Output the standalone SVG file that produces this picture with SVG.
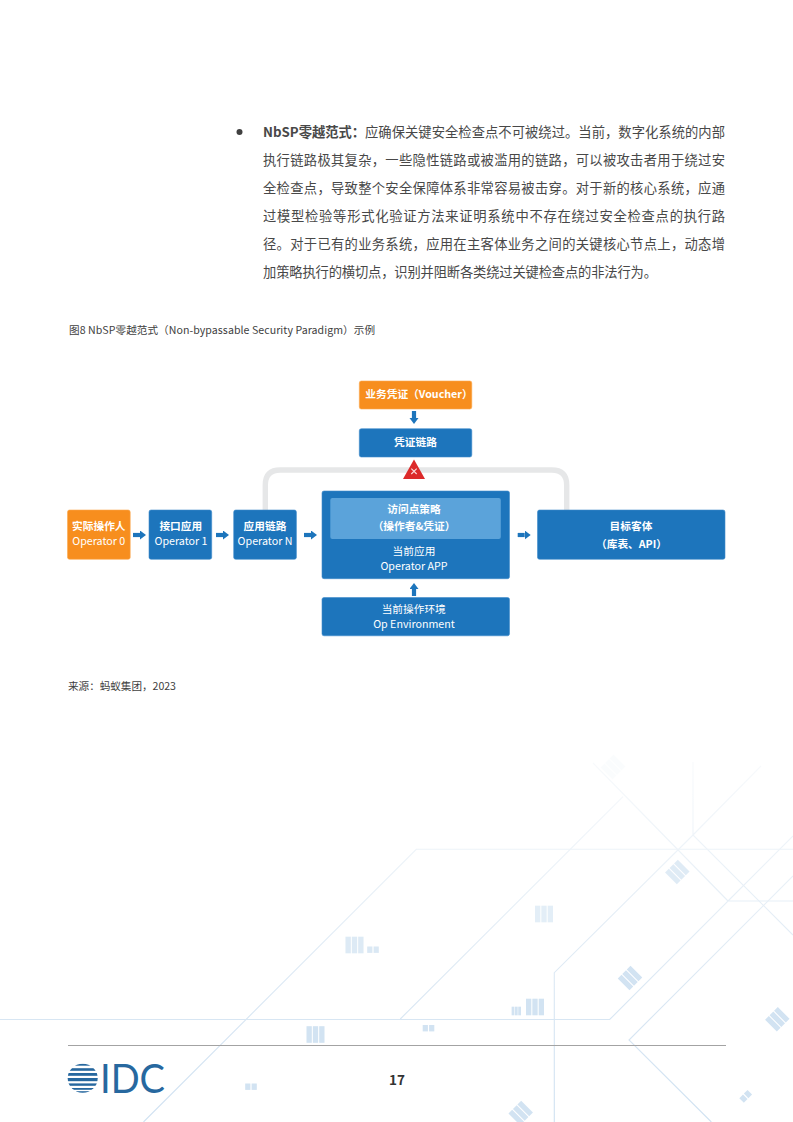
<svg xmlns="http://www.w3.org/2000/svg" width="793" height="1122" viewBox="0 0 793 1122">
<style>
text{font-family:"Noto Sans CJK SC","Noto Sans",sans-serif}
.p{font-size:13.3px;fill:#484848}
.cap{font-size:10.6px;fill:#404040}
.w{font-size:10.7px;fill:#fff;text-anchor:middle}
.b{font-weight:700}
.blue{fill:#1d75bc;stroke:#3f8ccb;stroke-width:.6}
.org{fill:#f78e1e;stroke:#fba94f;stroke-width:.6}
.bg{fill:none;stroke:url(#fade);stroke-width:1.1}
.ar{stroke:#1d75bc;stroke-width:4.2;fill:none;marker-end:url(#head)}
</style>
<defs>
<linearGradient id="fade" gradientUnits="userSpaceOnUse" x1="0" y1="760" x2="0" y2="1122">
<stop offset="0" stop-color="#f8fafc"/><stop offset=".35" stop-color="#e8f0f7"/><stop offset=".7" stop-color="#d8e6f3"/><stop offset="1" stop-color="#cfe1f1"/>
</linearGradient>
<marker id="head" markerUnits="userSpaceOnUse" markerWidth="7" markerHeight="10" refX="0" refY="4.5" orient="auto"><path d="M0 0L6 4.5L0 9z" fill="#1d75bc"/></marker>
<g id="b3"><rect x="-9" y="-8.3" width="5.3" height="16.6"/><rect x="-2.650" y="-8.3" width="5.3" height="16.6"/><rect x="3.700" y="-8.3" width="5.3" height="16.6"/></g>
<g id="b2"><rect x="-5.8" y="-3.2" width="5.2" height="6.4"/><rect x=".6" y="-3.2" width="5.2" height="6.4"/></g>
<clipPath id="globe"><ellipse cx="82.7" cy="1078.3" rx="15" ry="14.5"/></clipPath>
</defs>
<rect width="793" height="1122" fill="#fff"/>
<g id="background">
<path class="bg" d="M143.5 1122L416.3 849.3H793"/>
<path class="bg" d="M400.3 1019L623 796.7"/>
<path class="bg" d="M0 1019.5H609.7L728 901H793M728 901L793 836M728 901L593 763"/>
<path class="bg" d="M554.3 1122V972.7L693 835L761 766M693 835V762M693 835L793 935"/>
<path class="bg" d="M711.3 1122L629 1040L793 876"/>
<g fill="#d2e3f2">
<use href="#b3" x="544" y="914" opacity=".6"/>
<use href="#b3" x="535" y="1007"/>
<use href="#b3" x="315.5" y="1034.5"/>
<use href="#b3" x="354.5" y="945" opacity=".75"/>
<use href="#b3" transform="translate(516.3 1011) scale(.52)"/>
<use href="#b2" x="428.5" y="1028.2"/>
<use href="#b2" x="251" y="1086.7"/>
<use href="#b2" x="373" y="949.7" opacity=".8"/>
<use href="#b3" transform="translate(677.3 872) rotate(-45)" opacity=".7"/>
<use href="#b3" transform="translate(630 978) rotate(-45)"/>
<use href="#b3" transform="translate(777.3 1019.3) rotate(-45)"/>
<use href="#b3" transform="translate(520.7 1113) rotate(-45)"/>
<use href="#b2" transform="translate(745.7 1096.3) rotate(-45)"/>
<use href="#b3" transform="translate(613 767) rotate(-45)" opacity=".1"/>
</g>
</g>
<g id="paragraph">
<circle cx="239.5" cy="132" r="3" fill="#404040"/>
<text class="p b" x="263" y="137" textLength="102" lengthAdjust="spacing" fill="#404040">NbSP零越范式：</text>
<text class="p" x="365" y="137" textLength="360" lengthAdjust="spacing">应确保关键安全检查点不可被绕过。当前，数字化系统的内部</text>
<text class="p" x="263" y="165" textLength="462" lengthAdjust="spacing">执行链路极其复杂，一些隐性链路或被滥用的链路，可以被攻击者用于绕过安</text>
<text class="p" x="263" y="193" textLength="462" lengthAdjust="spacing">全检查点，导致整个安全保障体系非常容易被击穿。对于新的核心系统，应通</text>
<text class="p" x="263" y="220.500" textLength="462" lengthAdjust="spacing">过模型检验等形式化验证方法来证明系统中不存在绕过安全检查点的执行路</text>
<text class="p" x="263" y="248.500" textLength="462" lengthAdjust="spacing">径。对于已有的业务系统，应用在主客体业务之间的关键核心节点上，动态增</text>
<text class="p" x="263" y="276.500" textLength="394" lengthAdjust="spacing">加策略执行的横切点，识别并阻断各类绕过关键检查点的非法行为。</text>
</g>
<text id="caption" class="cap" x="69" y="334" textLength="306" lengthAdjust="spacing">图8 NbSP零越范式（Non-bypassable Security Paradigm）示例</text>
<g id="connectors">
<path d="M265.300 510V485Q265.300 470 280.300 470H551.700Q566.700 470 566.700 485V510" fill="none" stroke="#e6e7e8" stroke-width="5.400"/>
<path class="ar" d="M133 535H140"/>
<path class="ar" d="M216 535H223"/>
<path class="ar" d="M304 535H311"/>
<path class="ar" d="M517.700 535H524.700"/>
<path class="ar" d="M414 411V418"/>
<path class="ar" d="M414 596V589"/>
</g>
<g id="blocked">
<path d="M414 459.500L425 479H403z" fill="#dc2a2a"/>
<path d="M411.300 468.700L416.700 474M416.700 468.700L411.300 474" stroke="#fbdede" stroke-width="1.100" fill="none"/>
</g>
<g id="voucher"><rect class="org" x="359.300" y="381" width="112.500" height="28" rx="2"/><text class="w b" x="419" y="398">业务凭证（Voucher）</text></g>
<g id="voucher-chain"><rect class="blue" x="359.300" y="428.700" width="112.500" height="28.300" rx="2"/><text class="w b" x="415.500" y="446">凭证链路</text></g>
<g id="op0"><rect class="org" x="67.500" y="510" width="62.700" height="49.300" rx="2"/><text class="w b" x="98.800" y="529.500">实际操作人</text><text class="w" x="98.800" y="545">Operator 0</text></g>
<g id="op1"><rect class="blue" x="149" y="510" width="62.700" height="49.300" rx="2"/><text class="w b" x="180.800" y="529.500">接口应用</text><text class="w" x="181" y="545">Operator 1</text></g>
<g id="opn"><rect class="blue" x="233.700" y="510" width="62.700" height="49.300" rx="2"/><text class="w b" x="265" y="529.500">应用链路</text><text class="w" x="265" y="545">Operator N</text></g>
<g id="app"><rect class="blue" x="322" y="491" width="187.500" height="87.700" rx="2"/>
<rect x="330.300" y="498" width="170.500" height="41" rx="2" fill="#5ba3da"/>
<text class="w b" x="414" y="513">访问点策略</text><text class="w b" x="414" y="530">（操作者&amp;凭证）</text>
<text class="w" x="414" y="555">当前应用</text><text class="w" x="414" y="570">Operator APP</text></g>
<g id="env"><rect class="blue" x="322" y="597.500" width="187.500" height="38.300" rx="2"/><text class="w" x="413.700" y="613">当前操作环境</text><text class="w" x="414" y="628">Op Environment</text></g>
<g id="target"><rect class="blue" x="537.500" y="510" width="187.500" height="49.300" rx="2"/><text class="w b" x="631" y="530">目标客体</text><text class="w b" x="631.500" y="548">（库表、API）</text></g>
<text id="source" class="cap" x="68" y="690" textLength="108" lengthAdjust="spacing">来源：蚂蚁集团，2023</text>
<g id="footer">
<path d="M68 1045.500H726" stroke="#a3a3a3" stroke-width="1"/>
<g clip-path="url(#globe)" fill="#27689f">
<rect x="67" y="1063.500" width="32" height="2.200"/><rect x="67" y="1068.200" width="32" height="2.600"/><rect x="67" y="1073" width="32" height="2.800"/><rect x="67" y="1078" width="32" height="3.200"/><rect x="67" y="1083.400" width="32" height="2.400"/><rect x="67" y="1088" width="32" height="1.800"/><rect x="67" y="1091.200" width="32" height="2"/>
</g>
<text x="100" y="1092.500" font-size="40" fill="#27689f" textLength="65" lengthAdjust="spacingAndGlyphs" style="font-family:Lato,'Liberation Sans',sans-serif">IDC</text>
<text x="397" y="1085" font-size="13.500" font-weight="700" fill="#333" text-anchor="middle">17</text>
</g>
</svg>
